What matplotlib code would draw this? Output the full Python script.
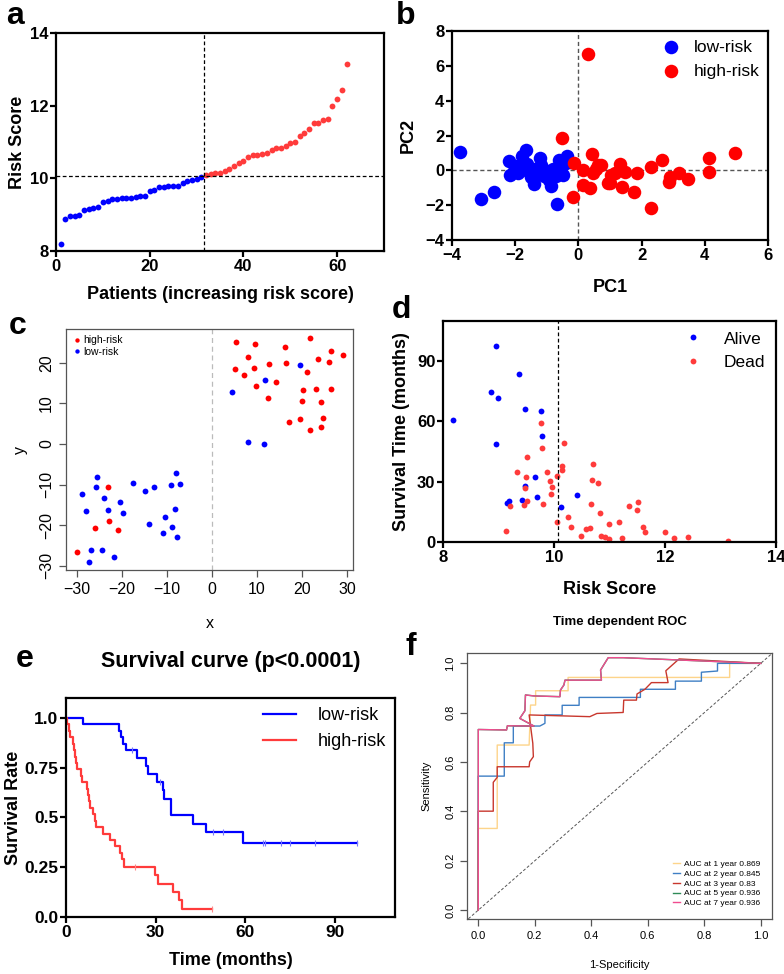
import numpy as np
import matplotlib.pyplot as plt

plt.rcParams['font.family'] = ['Liberation Sans', 'DejaVu Sans']

W, H = 784, 974

# ---- panel a: risk score per patient
risk_sorted = [8.18, 8.87, 8.95, 8.96, 8.98, 9.12, 9.16, 9.19, 9.20, 9.35,
               9.37, 9.43, 9.44, 9.46, 9.47, 9.47, 9.48, 9.52, 9.52, 9.65,
               9.69, 9.77, 9.77, 9.78, 9.78, 9.80, 9.87, 9.93, 9.95, 9.97,
               10.05, 10.10, 10.13, 10.14, 10.14, 10.20, 10.27, 10.33, 10.43, 10.48,
               10.58, 10.65, 10.65, 10.66, 10.70, 10.78, 10.83, 10.84, 10.90, 10.98,
               10.99, 11.17, 11.24, 11.37, 11.51, 11.52, 11.61, 11.64, 12.00, 12.18,
               12.44, 13.15]
n_low = 31
cutoff = 10.07
cut_patient = 31.5

# ---- panel b: PCA
pc_low_x = [-3.75, -3.08, -2.66, -2.20, -2.17, -2.05, -1.90, -1.78, -1.66, -1.62,
            -1.55, -1.50, -1.42, -1.38, -1.30, -1.22, -1.18, -1.10, -1.00, -0.92,
            -0.87, -0.80, -0.72, -0.69, -0.62, -0.58, -0.50, -0.45, -0.35, -0.30, -1.95]
pc_low_y = [1.03, -1.62, -1.23, 0.55, -0.27, -0.05, -0.15, 0.82, 1.18, 0.35,
            -0.10, -0.40, -0.78, 0.10, -0.20, 0.68, 0.30, -0.35, -0.05, -0.55,
            -0.88, 0.10, -0.30, -1.94, 0.62, 0.25, -0.28, 0.35, 0.85, 0.50, 0.25]
pc_high_x = [0.73, 1.31, 1.15, 1.00, 1.37, 1.47, 1.86, 1.75, 2.31, 2.65,
             2.31, 2.89, 2.87, 3.19, 3.47, 4.13, 4.14, 4.97, -0.51, -0.13,
             0.42, 0.63, 0.15, 0.47, -0.16, 0.15, 0.36, 0.94, 1.02, 0.29, 0.55]
pc_high_y = [0.30, 0.36, -0.18, -0.75, -0.94, -0.08, -0.14, -1.27, 0.17, 0.58,
             -2.15, -0.41, -0.69, -0.14, -0.47, 0.68, -0.08, 1.00, 1.83, 0.40,
             0.93, 0.30, 0.01, -0.18, -1.52, -0.85, -1.04, -0.75, -0.28, 6.70, 0.05]

# ---- panel c: t-SNE
ts_high_x = [-23.0, -22.9, -25.9, -20.8, -30.0,
             9.47, 16.1, 21.8, 26.4, 29.1, 23.6, 26.0, 16.5, 12.6, 9.4,
             21.0, 14.3, 9.8, 20.2, 23.0, 26.4, 12.4, 20.0, 24.1, 24.7,
             19.6, 17.2, 24.2, 21.8, 5.4, 5.1, 7.0, 8.1]
ts_high_y = [-10.7, -19.0, -20.6, -21.2, -26.5,
             24.6, 23.9, 26.0, 22.9, 21.8, 20.8, 20.2, 20.0, 19.6, 18.6,
             17.8, 15.3, 14.3, 13.3, 13.5, 13.5, 11.2, 10.7, 10.3, 6.3,
             6.1, 5.3, 4.1, 3.4, 25.0, 18.4, 17.0, 21.3]
ts_low_x = [-25.6, -25.7, -28.9, -23.9, -20.5, -28.0, -23.0, -19.7, -17.5, -14.9,
            -12.8, -9.1, -8.0, -7.0, -10.5, -8.1, -13.9, -8.8, -10.8, -7.8,
            -26.8, -24.4, -21.8, -27.4, 19.6, 11.8, 11.6, 8.1, 4.4]
ts_low_y = [-8.1, -10.6, -12.3, -13.4, -14.2, -16.4, -16.3, -16.9, -9.6, -11.5,
            -10.6, -10.1, -7.1, -9.9, -17.9, -16.0, -19.6, -20.5, -21.9, -22.9,
            -26.1, -26.2, -27.8, -29.0, 19.5, 15.8, 0.1, 0.6, 12.7]

# ---- panel d: survival time vs risk score
alive_x = [8.96, 9.37, 8.86, 8.99, 8.18, 9.48, 9.77, 9.78, 8.95, 9.66,
           9.47, 9.69, 9.43, 9.19, 9.16, 10.13, 10.41]
alive_y = [97.5, 83.4, 74.6, 71.8, 60.5, 66.4, 65.4, 52.7, 48.7, 32.4,
           27.9, 22.3, 21.1, 20.3, 19.6, 17.4, 23.3]
dead_x = [9.77, 9.78, 10.18, 9.52, 9.34, 9.49, 9.88, 9.93, 9.96, 9.95,
          10.05, 10.14, 10.14, 9.48, 9.52, 9.46, 9.21, 9.81, 9.13, 10.06,
          10.25, 10.31, 10.48, 10.57, 10.64, 10.70, 10.68, 10.79, 10.66, 10.82,
          10.84, 10.91, 10.99, 10.99, 11.17, 11.23, 11.36, 11.51, 11.50, 11.60,
          11.64, 12.00, 12.17, 12.42, 13.14]
dead_y = [59.0, 46.7, 49.2, 42.4, 35.0, 32.4, 35.0, 30.2, 27.4, 23.9,
          32.7, 37.7, 36.0, 26.9, 20.6, 18.4, 17.8, 19.1, 5.3, 10.0,
          12.5, 7.3, 3.2, 6.5, 6.8, 39.0, 31.1, 29.6, 18.8, 14.5,
          3.2, 2.5, 1.3, 9.1, 10.1, 1.8, 18.1, 19.8, 16.1, 7.5,
          4.8, 4.8, 2.2, 2.5, 0.7]

# ---- panel e: Kaplan-Meier
km_low_t = [0, 5.6, 17.8, 18.5, 19.2, 20.2, 23.8, 26.9, 27.5, 30.4, 32.4, 32.8,
            35.2, 42.4, 46.9, 59.1, 97.4]
km_low_s = [1.0, 0.968, 0.935, 0.903, 0.871, 0.839, 0.80, 0.76, 0.72, 0.68, 0.64,
            0.595, 0.51, 0.467, 0.425, 0.372, 0.372]
km_high_t = [0, 0.4, 0.9, 1.5, 2.2, 2.6, 2.9, 3.2, 3.7, 5.0, 5.3, 6.9, 7.3, 7.6,
             8.0, 9.1, 9.6, 10.1, 12.4, 14.7, 16.3, 18.2, 18.7, 19.3, 29.7, 30.8,
             35.8, 37.8, 38.9, 48.8]
km_high_s = [1.0, 0.968, 0.935, 0.903, 0.871, 0.839, 0.806, 0.774, 0.742, 0.71,
             0.677, 0.645, 0.613, 0.581, 0.548, 0.516, 0.484, 0.452, 0.419, 0.387,
             0.355, 0.323, 0.29, 0.25, 0.21, 0.165, 0.124, 0.083, 0.041, 0.041]
cens_low_t = [22.2, 31.5, 49.0, 52.5, 65.8, 66.5, 72.0, 74.8, 83.3, 97.4]
cens_low_s = [0.839, 0.68, 0.425, 0.425, 0.372, 0.372, 0.372, 0.372, 0.372, 0.372]
cens_high_t = [23.0, 48.8]
cens_high_s = [0.25, 0.041]

# ---- panel f: time dependent ROC
fpr1 = [0, 0, 0.067, 0.067, 0.18, 0.185, 0.203, 0.203, 0.318, 0.318, 0.89, 0.89, 1.0]
tpr1 = [0, 0.331, 0.331, 0.669, 0.669, 0.831, 0.831, 0.889, 0.889, 0.943, 0.943, 1.0, 1.0]
fpr2 = [0, 0, 0.092, 0.092, 0.124, 0.124, 0.218, 0.236, 0.236, 0.297, 0.297, 0.357,
        0.357, 0.56, 0.574, 0.574, 0.698, 0.698, 0.79, 0.79, 0.847, 0.847, 1.0]
tpr2 = [0, 0.543, 0.543, 0.678, 0.678, 0.746, 0.746, 0.757, 0.791, 0.791, 0.830, 0.830,
        0.862, 0.862, 0.862, 0.895, 0.895, 0.928, 0.928, 0.964, 0.969, 1.0, 1.0]
fpr3 = [0, 0, 0.053, 0.053, 0.067, 0.067, 0.18, 0.182, 0.195, 0.193, 0.18, 0.395,
        0.42, 0.513, 0.515, 0.56, 0.562, 0.59, 0.613, 0.672, 0.664, 0.711, 1.0]
tpr3 = [0, 0.401, 0.401, 0.518, 0.538, 0.581, 0.581, 0.601, 0.622, 0.676, 0.791, 0.784,
        0.797, 0.801, 0.851, 0.851, 0.876, 0.895, 0.922, 0.922, 0.97, 1.018, 1.0]
fpr7 = [0, 0, 0.1, 0.103, 0.197, 0.147, 0.165, 0.167, 0.197, 0.289, 0.291, 0.303,
        0.307, 0.436, 0.433, 0.46, 0.513, 1.0]
tpr7 = [0, 0.732, 0.73, 0.747, 0.746, 0.777, 0.808, 0.872, 0.868, 0.865, 0.892, 0.912,
        0.932, 0.932, 0.973, 1.023, 1.023, 1.0]
auc_labels = ['AUC at 1 year 0.869', 'AUC at 2 year 0.845', 'AUC at 3 year 0.83',
              'AUC at 5 year 0.936', 'AUC at 7 year 0.936']
roc_colors = ['#FDD48A', '#3F7FC4', '#C8372D', '#2E8B57', '#F04C8F']

BLUE = '#0000FF'
RED = '#FF3B3B'


def box(l, t, r, b):
    return [l / W, 1 - b / H, (r - l) / W, (b - t) / H]


def prism_style(ax, fs=12):
    for s in ax.spines.values():
        s.set_linewidth(1.6)
    ax.tick_params(direction='out', width=1.6, length=4, pad=1.5, labelsize=fs)
    for lab in ax.get_xticklabels() + ax.get_yticklabels():
        lab.set_fontweight('bold')


def r_style(ax, fs=11.5):
    for s in ax.spines.values():
        s.set_linewidth(0.9)
        s.set_color('#555555')
    ax.tick_params(direction='out', width=0.9, length=5, labelsize=fs, color='#555555')
    for lab in ax.get_yticklabels():
        lab.set_rotation(90)
        lab.set_va('center')


fig = plt.figure(figsize=(W / 100, H / 100), dpi=100)

# a
ax = fig.add_axes(box(56, 33, 384, 251))
pat = np.arange(1, len(risk_sorted) + 1)
rs = np.array(risk_sorted)
ax.plot(pat[:n_low], rs[:n_low], 'o', color=BLUE, ms=4.2, mec='none')
ax.plot(pat[n_low:], rs[n_low:], 'o', color=RED, ms=4.2, mec='none')
ax.axhline(cutoff, color='k', ls=(0, (3, 2)), lw=0.9)
ax.axvline(cut_patient, color='k', ls=(0, (3, 2)), lw=0.9)
ax.set_xlim(0, 70)
ax.set_ylim(8, 14)
ax.set_xticks([0, 20, 40, 60])
ax.set_yticks([8, 10, 12, 14])
prism_style(ax)
ax.set_xlabel('Patients (increasing risk score)', fontsize=13, fontweight='bold', labelpad=9)
ax.set_ylabel('Risk Score', fontsize=13, fontweight='bold', labelpad=3)

# b
ax = fig.add_axes(box(452, 31, 768, 240))
ax.axhline(0, color='#555555', ls=(0, (3, 2)), lw=1.0, zorder=1)
ax.axvline(0, color='#555555', ls=(0, (3, 2)), lw=1.0, zorder=1)
ax.scatter(pc_low_x, pc_low_y, s=95, color=BLUE, label='low-risk', zorder=3, linewidths=0)
ax.scatter(pc_high_x, pc_high_y, s=95, color='#FF0000', label='high-risk', zorder=3, linewidths=0)
ax.set_xlim(-4, 6)
ax.set_ylim(-4, 8)
ax.set_xticks([-4, -2, 0, 2, 4, 6])
ax.set_yticks([-4, -2, 0, 2, 4, 6, 8])
prism_style(ax)
ax.set_xlabel('PC1', fontsize=13, fontweight='bold', labelpad=12)
ax.set_ylabel('PC2', fontsize=13, fontweight='bold', labelpad=6)
ax.legend(loc='upper right', frameon=False, fontsize=12.5, handletextpad=0.3,
          borderaxespad=0.1, labelspacing=0.5)

# c
ax = fig.add_axes(box(66, 329, 353, 570))
ax.axvline(0, color='#BBBBBB', ls=(0, (4, 3)), lw=0.9)
ax.plot(ts_high_x, ts_high_y, 'o', color='#FF0000', ms=4.2, mec='none', label='high-risk')
ax.plot(ts_low_x, ts_low_y, 'o', color=BLUE, ms=4.2, mec='none', label='low-risk')
ax.set_xlim(-32.4, 31.3)
ax.set_ylim(-31, 28.3)
ax.set_xticks([-30, -20, -10, 0, 10, 20, 30])
ax.set_yticks([-30, -20, -10, 0, 10, 20])
r_style(ax)
ax.set_xlabel('x', fontsize=11.5, labelpad=14)
ax.set_ylabel('y', fontsize=11.5, labelpad=8)
ax.legend(loc='upper left', frameon=False, fontsize=7.5, handletextpad=0.1,
          borderaxespad=0.2, labelspacing=0.15, markerscale=0.75, handlelength=1.0)

# d
ax = fig.add_axes(box(443, 321, 776, 542))
ax.plot(alive_x, alive_y, 'o', color=BLUE, ms=4.2, mec='none', label='Alive')
ax.plot(dead_x, dead_y, 'o', color=RED, ms=4.2, mec='none', label='Dead')
ax.axvline(cutoff, color='k', ls=(0, (3, 2)), lw=0.9)
ax.set_xlim(8, 14)
ax.set_ylim(0, 110)
ax.set_xticks([8, 10, 12, 14])
ax.set_yticks([0, 30, 60, 90])
prism_style(ax)
ax.set_xlabel('Risk Score', fontsize=13, fontweight='bold', labelpad=12)
ax.set_ylabel('Survival Time (months)', fontsize=13, fontweight='bold', labelpad=5)
ax.legend(loc='upper right', frameon=False, fontsize=12.5, handletextpad=0.8,
          borderaxespad=0.2, labelspacing=0.5)

# e
ax = fig.add_axes(box(66, 698, 395, 917))
ax.step(km_low_t, km_low_s, where='post', color=BLUE, lw=1.6, label='low-risk')
ax.step(km_high_t, km_high_s, where='post', color=RED, lw=1.6, label='high-risk')
ax.plot(cens_low_t, cens_low_s, '|', color='#7777FF', ms=5, mew=0.8)
ax.plot(cens_high_t, cens_high_s, '|', color='#FF8888', ms=5, mew=0.8)
ax.set_xlim(0, 110)
ax.set_ylim(0, 1.1)
ax.set_xticks([0, 30, 60, 90])
ax.set_yticks([0, 0.25, 0.5, 0.75, 1.0])
ax.set_yticklabels(['0.0', '0.25', '0.5', '0.75', '1.0'])
prism_style(ax, fs=12.5)
ax.set_xlabel('Time (months)', fontsize=13, fontweight='bold', labelpad=9)
ax.set_ylabel('Survival Rate', fontsize=13, fontweight='bold', labelpad=2)
ax.set_title('Survival curve (p<0.0001)', fontsize=15.5, fontweight='bold', pad=22)
ax.legend(loc='upper right', frameon=False, fontsize=13, handletextpad=1.2,
          borderaxespad=0.1, labelspacing=0.5, handlelength=1.8)

# f
ax = fig.add_axes(box(467, 653, 772, 919))
ax.plot([-0.1, 1.1], [-0.1, 1.1], color='#555555', ls=(0, (3, 2)), lw=0.7)
ax.plot(fpr1, tpr1, color=roc_colors[0], lw=1.0, label=auc_labels[0])
ax.plot(fpr2, tpr2, color=roc_colors[1], lw=1.0, label=auc_labels[1])
ax.plot(fpr3, tpr3, color=roc_colors[2], lw=1.0, label=auc_labels[2])
ax.plot(fpr7, tpr7, color=roc_colors[3], lw=1.0, label=auc_labels[3])
ax.plot(fpr7, tpr7, color=roc_colors[4], lw=1.0, label=auc_labels[4])
ax.set_xlim(-0.04, 1.04)
ax.set_ylim(-0.036, 1.042)
ax.set_xticks(np.arange(0, 1.01, 0.2))
ax.set_yticks(np.arange(0, 1.01, 0.2))
ax.set_xticklabels(['0.0', '0.2', '0.4', '0.6', '0.8', '1.0'])
ax.set_yticklabels(['0.0', '0.2', '0.4', '0.6', '0.8', '1.0'])
r_style(ax, fs=8)
ax.set_xlabel('1-Specificity', fontsize=8, labelpad=14)
ax.set_ylabel('Sensitivity', fontsize=8, labelpad=10)
ax.set_title('Time dependent ROC', fontsize=9.5, fontweight='bold', pad=20)
ax.legend(loc='lower right', frameon=False, fontsize=6, handlelength=0.8,
          handletextpad=0.5, labelspacing=0.25, borderaxespad=1.0)

# panel letters
for letter, x, y in [('a', 6, 24), ('b', 396, 24), ('c', 9, 334), ('d', 392, 318),
                     ('e', 16, 667), ('f', 405, 655)]:
    fig.text(x / W, 1 - y / H, letter, fontsize=23, fontweight='bold', va='baseline')

fig.savefig('out.png', dpi=100)
